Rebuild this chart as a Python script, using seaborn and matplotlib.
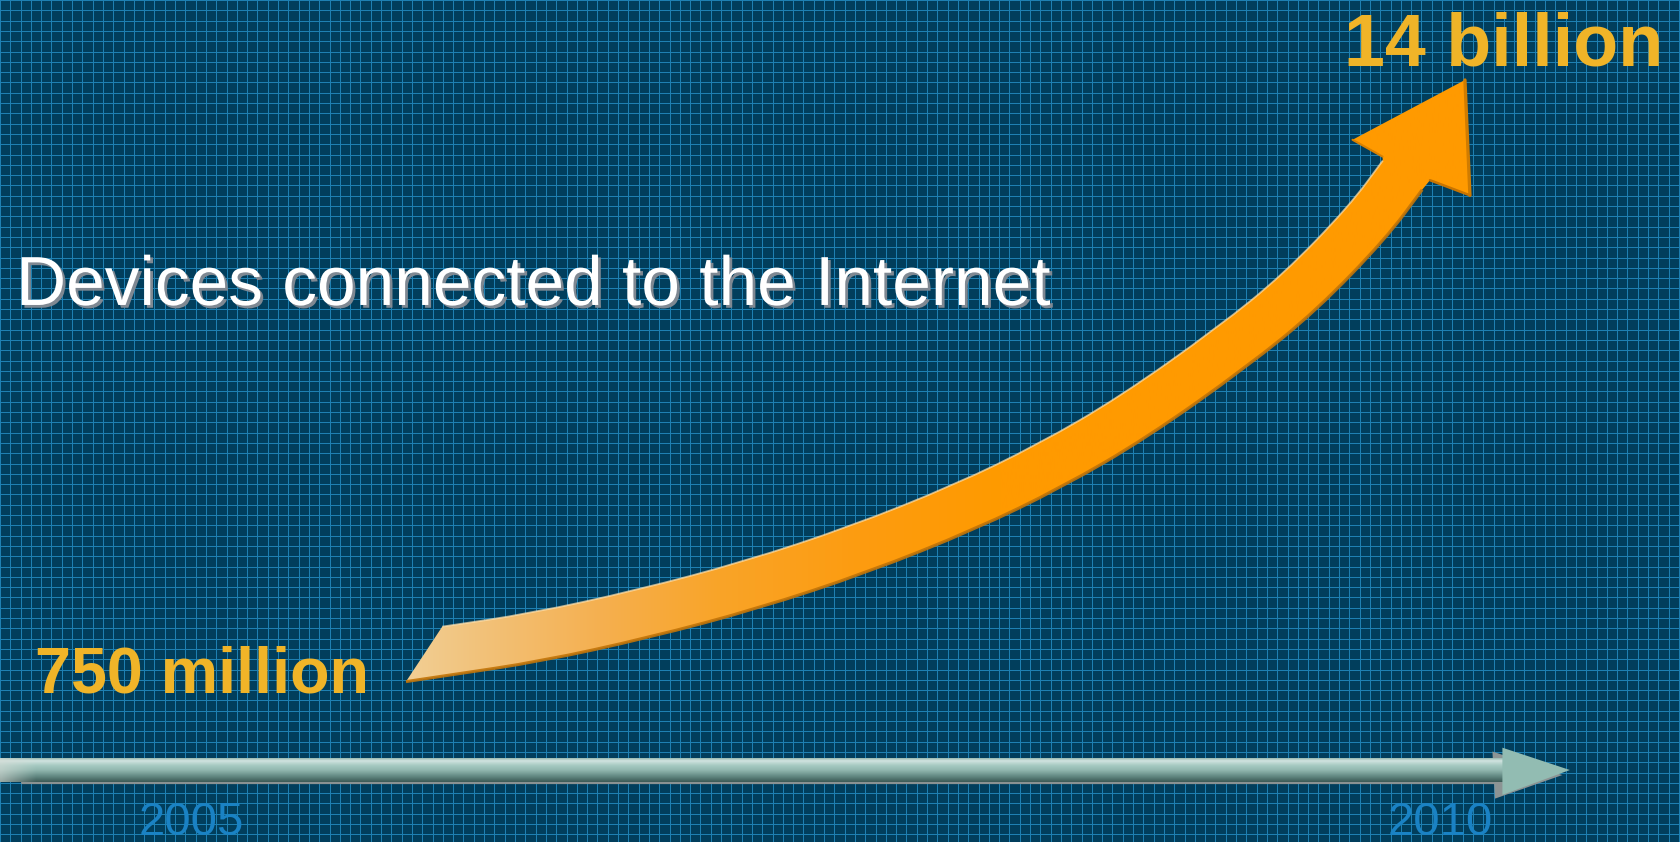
import numpy as np
import matplotlib
matplotlib.use('Agg')
import matplotlib.pyplot as plt
import matplotlib.patheffects as pe
from matplotlib.patches import Polygon, PathPatch
from matplotlib.path import Path
from matplotlib.ticker import MultipleLocator
from matplotlib.colors import to_rgb
import seaborn as sns

# ---- data ----
years = [2005, 2010]
year_labels = ['2005', '2010']
device_labels = ['750 million', '14 billion']
title = 'Devices connected to the Internet'

# centre line of the growth arrow (x in years, y in % of chart height)
curve_x = [2006.02, 2006.38, 2006.81, 2007.24, 2007.67, 2008.10, 2008.44,
           2008.77, 2009.17, 2009.44, 2009.71, 2009.85]
curve_y = [22.7, 24.3, 27.1, 30.5, 34.7, 39.8, 44.7,
           50.4, 58.8, 65.3, 73.6, 79.2]
# arrow head: left notch, left barb, tip, right barb, right notch
head_x = [2009.77, 2009.65, 2010.10, 2010.12, 2009.96]
head_y = [81.4, 83.4, 90.5, 76.8, 78.6]

W, H = 1681, 842
x_lo, x_hi = 2004.235, 2010.965

sns.set_theme(style='white')
plt.rcParams['font.family'] = ['Liberation Sans', 'DejaVu Sans']

fig = plt.figure(figsize=(W / 100, H / 100), dpi=100)
fig.patch.set_facecolor('#013e5c')

# blueprint grid background
bg = fig.add_axes([0, 0, 1, 1])
bg.set_xlim(0, W)
bg.set_ylim(H, 0)
bg.set_facecolor('#013e5c')
bg.xaxis.set_major_locator(MultipleLocator(10.3))
bg.yaxis.set_major_locator(MultipleLocator(10.3))
bg.grid(True, color='#1e80b2', linewidth=0.72, antialiased=False)
bg.tick_params(length=0, labelbottom=False, labelleft=False)
for s in bg.spines.values():
    s.set_visible(False)

ax = fig.add_axes([0, 0, 1, 1], facecolor='none')
ax.set_xlim(x_lo, x_hi)
ax.set_ylim(0, 100)
ax.axis('off')


def ramp(stops, colors, pos):
    cols = np.array([to_rgb(c) for c in colors])
    return np.stack([np.interp(pos, stops, cols[:, k]) for k in range(3)], axis=-1)


def smooth(pts, first=Path.MOVETO):
    # quadratic b-spline style path through the given vertices
    verts, codes = [pts[0]], [first]
    verts.append((pts[0] + pts[1]) / 2)
    codes.append(Path.LINETO)
    for i in range(1, len(pts) - 1):
        verts += [pts[i], (pts[i] + pts[i + 1]) / 2]
        codes += [Path.CURVE3, Path.CURVE3]
    verts.append(pts[-1])
    codes.append(Path.LINETO)
    return verts, codes


# ---- time line arrow ----
tl_y, tl_h, tl_end = 8.55, 1.37, 2010.25
rows = np.linspace(0, 1, 30)
band = ramp([0, 0.1, 0.3, 0.5, 0.75, 1.0],
            ['#9cbcb4', '#d2e4e0', '#a6cac2', '#92b8b0', '#658c86', '#3e5c58'], rows)
ncol = 600
img = np.repeat(band[:, None, :], ncol, axis=1)
px = np.linspace(0, (tl_end - x_lo) / (x_hi - x_lo) * W, ncol)
fade = np.clip(1 - px / 35, 0, 1)[None, :, None] * 0.6
img = img * (1 - fade) + np.array(to_rgb('#d6dcd6')) * fade

ax.plot([x_lo + 0.09, tl_end], [tl_y - tl_h - 0.2] * 2, color='#8a9292', lw=1.6, zorder=1.5)
ax.add_patch(Polygon([(tl_end - 0.04, tl_y + 2.2), (tl_end + 0.24, tl_y - 0.6),
                      (tl_end - 0.03, tl_y - 3.4)], closed=True,
                     facecolor='#8c9494', edgecolor='none', zorder=1.6))
ax.imshow(img, extent=[x_lo, tl_end, tl_y - tl_h, tl_y + tl_h], aspect='auto',
          origin='upper', interpolation='bilinear', zorder=2)
ax.add_patch(Polygon([(tl_end, tl_y + 2.65), (tl_end + 0.27, tl_y), (tl_end, tl_y - 2.95)],
                     closed=True, facecolor='#92bcb2', edgecolor='none', zorder=2.1))

# ---- growth arrow ----
pts = ax.transData.transform(np.column_stack([curve_x, curve_y]))
d = np.gradient(pts, axis=0)
t = d / np.linalg.norm(d, axis=1)[:, None]
n = np.column_stack([-t[:, 1], t[:, 0]])
hw = 24.5
inv = ax.transData.inverted()
upper = inv.transform(pts + n * hw)
lower = inv.transform(pts - n * hw)
tail = inv.transform((pts[0] - n[0] * hw - t[0] * 44)[None])[0]
head = np.column_stack([head_x, head_y])

uv, uc = smooth(upper)
lv, lc = smooth(lower[::-1], first=Path.LINETO)
verts = uv + list(head) + lv + [tail, tail]
codes = uc + [Path.LINETO] * len(head) + lc + [Path.LINETO, Path.CLOSEPOLY]
shape = PathPatch(Path(np.array(verts), codes), facecolor='none', edgecolor='none', zorder=3)
ax.add_patch(shape)

cols = np.linspace(0, W, 800)
grad = ramp([380, 480, 600, 720, 860, 1000],
            ['#f1d39e', '#f2c27a', '#f5b050', '#f9a428', '#fd9c10', '#ff9a00'], cols)
im = ax.imshow(grad[None, :, :], extent=[x_lo, x_hi, 0, 100], aspect='auto',
               interpolation='bilinear', zorder=3)
im.set_clip_path(shape)

lv2, lc2 = smooth(np.vstack([tail[None], lower]))
ax.add_patch(PathPatch(Path(np.array(lv2), lc2), facecolor='none', edgecolor='#c27408',
                       lw=2.2, alpha=0.9, zorder=3.5))
ax.add_patch(PathPatch(Path(np.array(uv), uc), facecolor='none', edgecolor='#ffe2b0',
                       lw=1.3, alpha=0.7, zorder=3.5))
sns.lineplot(x=head_x[2:4], y=head_y[2:4], sort=False, estimator=None, color='#d07c00',
             linewidth=2.4, ax=ax, legend=False, zorder=3.5)
sns.lineplot(x=head_x[3:], y=head_y[3:], sort=False, estimator=None, color='#c87400',
             linewidth=1.8, ax=ax, legend=False, zorder=3.5)
sns.lineplot(x=head_x[:2], y=head_y[:2], sort=False, estimator=None, color='#d88000',
             linewidth=1.5, ax=ax, legend=False, zorder=3.5)

# ---- text ----
ax.text(0.0095, 0.6378, title, transform=ax.transAxes, fontsize=50, color='white',
        ha='left', va='baseline', zorder=5,
        path_effects=[pe.withSimplePatchShadow(offset=(2, -2), shadow_rgbFace='#7f8892', alpha=1.0)])
ax.text(0.0208, 0.1781, device_labels[0], transform=ax.transAxes, fontsize=46.5,
        fontweight='bold', color='#f0b428', ha='left', va='baseline', zorder=5)
ax.text(0.7995, 0.9228, device_labels[1], transform=ax.transAxes, fontsize=53,
        fontweight='bold', color='#f0b428', ha='left', va='baseline', zorder=5)
for yr, lab in zip(years, year_labels):
    ax.text(yr, 0.83, lab, ha='center', va='baseline', fontsize=34, color='#1a82c4', zorder=5)

ax.set_xlim(x_lo, x_hi)
ax.set_ylim(0, 100)
fig.savefig('out.png', dpi=100, facecolor=fig.get_facecolor())
